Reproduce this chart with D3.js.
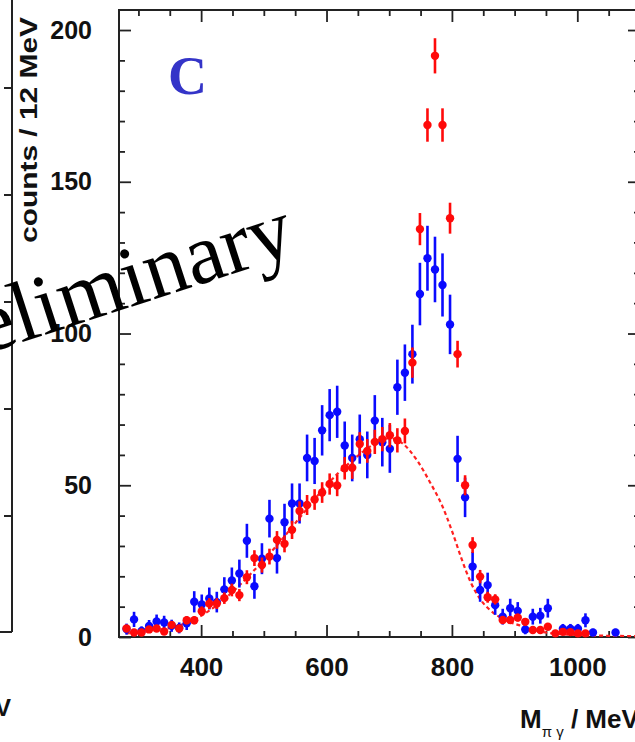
<!DOCTYPE html>
<html><head><meta charset="utf-8">
<script src="https://cdn.jsdelivr.net/npm/d3@7"></script>
<style>html,body{margin:0;padding:0;background:#fff;} svg{display:block}</style>
</head><body>
<svg id="chart" width="635" height="742"></svg>
<script>
// ---- data (12 MeV bins) ----
const massBins = [281,293,305,317,329,341,353,365,377,389,401,413,425,437,449,461,473,485,497,509,
  521,533,545,557,569,581,593,605,617,629,641,653,665,677,689,701,713,725,737,749,
  761,773,785,797,809,821,833,845,857,869,881,893,905,917,929,941,953,965,977,989,
  1001,1013,1025,1037,1049,1061,1073,1085,1097];
const blueCounts = [2.6,5.8,2.0,3.6,5.1,4.8,3.7,3.0,4.5,11.6,
  10.7,12.7,11.5,15.7,18.6,20.9,31.7,16.7,25.8,39.0,
  26.0,37.8,44.0,44.0,59.0,58.0,68.1,73.1,74.2,63.1,
  59.0,65.2,60.0,71.3,64.2,62.0,82.3,87.1,93.2,113.0,
  124.8,121.1,116.0,103.0,58.7,46.0,23.2,15.5,17.1,10.5,
  6.7,9.5,8.6,2.5,6.7,7.0,9.5,null,2.7,2.7,
  2.7,5.5,1.5,null,null,1.5,null,null,null];
const blueErrors = [1.8,2.5,1.5,2.0,2.3,2.2,2.0,1.8,2.2,3.5,
  3.3,3.6,3.4,4.0,4.3,4.6,5.6,4.1,5.1,6.2,
  5.1,6.1,6.6,6.6,7.7,7.6,8.3,8.6,8.6,7.9,
  7.7,8.1,7.7,8.4,8.0,7.9,9.1,9.3,9.7,10.3,
  10.7,10.8,10.4,9.8,7.6,6.5,4.8,3.9,4.1,3.2,
  2.6,3.1,2.9,1.6,2.6,2.6,3.1,null,1.6,1.6,
  1.6,2.3,1.2,null,null,1.2,null,null,null];
const redCounts = [2.8,1.5,1.5,2.5,2.8,1.8,4.0,2.8,5.5,5.5,
  8.5,11.0,11.0,12.8,15.5,13.8,19.7,26.0,23.7,26.5,
  32.0,30.7,35.3,41.5,43.5,45.3,47.6,50.4,49.9,55.6,
  55.8,63.6,61.3,64.3,65.2,66.5,64.8,67.9,90.4,134.4,
  168.7,191.5,168.7,138.0,93.2,50.0,30.3,19.9,13.1,12.4,
  5.6,5.6,6.4,5.0,2.3,2.3,3.4,1.2,1.7,1.6,
  1.2,1.2,null,null,null,null,null,null,null];
const redErrors = [0.9,0.7,0.7,0.9,0.9,0.8,1.1,0.9,1.3,1.3,
  1.6,1.8,1.8,1.9,2.1,2.0,2.3,2.6,2.5,2.6,
  2.9,2.8,3.0,3.2,3.3,3.4,3.4,3.5,3.5,3.7,
  3.7,3.9,3.9,4.0,4.0,4.0,4.0,4.1,5.0,5.3,
  5.5,5.8,5.5,5.1,4.4,3.3,2.6,2.2,1.8,1.7,
  1.3,1.3,1.3,1.2,0.9,0.9,1.0,0.7,0.8,0.8,
  0.7,0.7,null,null,null,null,null,null,null];
// background fit (dashed)
const fitMass = [280,320,360,400,440,480,520,560,600,640,680,700,720,745,765,785,800,815,830,845,860,885,915,940,995,1050,1100];
const fitCounts = [1.2,2,3.5,7,13,21,30,40,50,58,64,65.5,64,58,51,43,35,26,18,12.5,9,5.6,3.4,1.8,0.7,0.4,0.3];
// ticks
const xMajorTicks = [400,600,800,1000];
const xMinorTicks = [300,350,450,500,550,650,700,750,850,900,950,1050,1100];
const yMajorTicks = [0,50,100,150,200];
const yMinorTicks = [10,20,30,40,60,70,80,90,110,120,130,140,160,170,180,190];

// ---- layout ----
const W = 635, H = 742;
const frame = {left:119, right:640, top:10, bottom:637};
const x = d3.scaleLinear().domain([269,1100]).range([frame.left, frame.right]);
const y = d3.scaleLinear().domain([0,206.6]).range([frame.bottom, frame.top]);
const svg = d3.select('#chart');
svg.append('rect').attr('width',W).attr('height',H).attr('fill','#fff');

const FONT = '"Liberation Sans", Arial, Helvetica, sans-serif';
const SERIF = '"Liberation Serif", "Times New Roman", Times, serif';

// remnants of neighbouring panel on the left
const left = svg.append('g').attr('stroke','#222').attr('stroke-width',2).attr('fill','none');
left.append('line').attr('x1',12).attr('x2',12).attr('y1',0).attr('y2',632);
left.append('line').attr('x1',0).attr('x2',12).attr('y1',632).attr('y2',632);
[88,195,302,409,516].forEach(t=>left.append('line').attr('x1',4).attr('x2',12).attr('y1',t).attr('y2',t));
svg.append('text').attr('x',11).attr('y',716).attr('text-anchor','end')
  .attr('font-family',FONT).attr('font-weight','bold').attr('font-size',24).attr('fill','#111').text('MeV');

// axes
function styleAxis(g){
  g.select('.domain').remove();
  g.selectAll('line').attr('stroke','#222').attr('stroke-width',1.8);
  g.selectAll('text').attr('font-family',FONT).attr('font-weight','bold').attr('fill','#111');
  g.attr('font-family',null).attr('font-size',null);
}
svg.append('g').attr('transform',`translate(0,${frame.bottom})`)
  .call(d3.axisBottom(x).tickValues(xMinorTicks).tickSize(-6).tickFormat('')).call(styleAxis);
svg.append('g').attr('transform',`translate(0,${frame.bottom})`)
  .call(d3.axisBottom(x).tickValues(xMajorTicks).tickSize(-12).tickPadding(21).tickFormat(d3.format('d')))
  .call(styleAxis).selectAll('text').attr('font-size',26);
svg.append('g').attr('transform',`translate(0,${frame.top})`)
  .call(d3.axisTop(x).tickValues(xMinorTicks).tickSize(-6).tickFormat('')).call(styleAxis);
svg.append('g').attr('transform',`translate(0,${frame.top})`)
  .call(d3.axisTop(x).tickValues(xMajorTicks).tickSize(-12).tickFormat('')).call(styleAxis);
svg.append('g').attr('transform',`translate(${frame.left},0)`)
  .call(d3.axisLeft(y).tickValues(yMinorTicks).tickSize(-6).tickFormat('')).call(styleAxis);
svg.append('g').attr('transform',`translate(${frame.left},0)`)
  .call(d3.axisLeft(y).tickValues(yMajorTicks).tickSize(-12).tickPadding(27).tickFormat(d3.format('d')))
  .call(styleAxis).selectAll('text').attr('font-size',25);
svg.append('g').attr('transform',`translate(${frame.right},0)`)
  .call(d3.axisRight(y).tickValues(yMinorTicks).tickSize(-6).tickFormat('')).call(styleAxis);
svg.append('g').attr('transform',`translate(${frame.right},0)`)
  .call(d3.axisRight(y).tickValues(yMajorTicks).tickSize(-12).tickFormat('')).call(styleAxis);

svg.append('rect').attr('x',frame.left).attr('y',frame.top)
  .attr('width',frame.right-frame.left).attr('height',frame.bottom-frame.top)
  .attr('fill','none').attr('stroke','#222').attr('stroke-width',2);

// fit curve
const fitData = fitMass.map((m,i)=>({m, v:fitCounts[i]}));
svg.append('path').datum(fitData)
  .attr('d', d3.line().x(d=>x(d.m)).y(d=>y(d.v)).curve(d3.curveMonotoneX))
  .attr('fill','none').attr('stroke','#ff2020').attr('stroke-width',2.2).attr('stroke-dasharray','4,3');

// data series
function drawSeries(counts, errors, color){
  const data = massBins.map((m,i)=>({m, v:counts[i], e:errors[i]})).filter(d=>d.v!==null);
  const g = svg.append('g');
  g.selectAll('line').data(data).join('line')
    .attr('x1',d=>x(d.m)).attr('x2',d=>x(d.m))
    .attr('y1',d=>y(Math.max(0,d.v-d.e))).attr('y2',d=>y(d.v+d.e))
    .attr('stroke',color).attr('stroke-width',2.6);
  g.selectAll('circle').data(data).join('circle')
    .attr('cx',d=>x(d.m)).attr('cy',d=>y(d.v)).attr('r',4.2).attr('fill',color);
}
drawSeries(blueCounts, blueErrors, '#0a0aff');
drawSeries(redCounts, redErrors, '#ff0a0a');

// panel letter
svg.append('text').attr('x',168).attr('y',94)
  .attr('font-family',SERIF).attr('font-weight','bold').attr('font-size',54).attr('fill','#3434c8').text('C');

// axis titles
svg.append('text').attr('transform','translate(37,130) rotate(-90)').attr('text-anchor','middle')
  .attr('font-family',FONT).attr('font-weight','bold').attr('font-size',23).attr('fill','#111')
  .attr('textLength',226).attr('lengthAdjust','spacingAndGlyphs').text('counts / 12 MeV');
const xt = svg.append('text').attr('x',520).attr('y',728)
  .attr('font-family',FONT).attr('font-weight','bold').attr('font-size',26).attr('fill','#111');
xt.append('tspan').text('M');
xt.append('tspan').attr('font-size',15).attr('font-weight','normal').attr('dy',9).text('π γ');
xt.append('tspan').attr('dy',-9).text(' / MeV');

// watermark
svg.append('text').attr('transform','translate(-88,378) rotate(-18)')
  .attr('font-family',SERIF).attr('font-size',86).attr('fill','#000').text('Preliminary');
</script>
</body></html>
